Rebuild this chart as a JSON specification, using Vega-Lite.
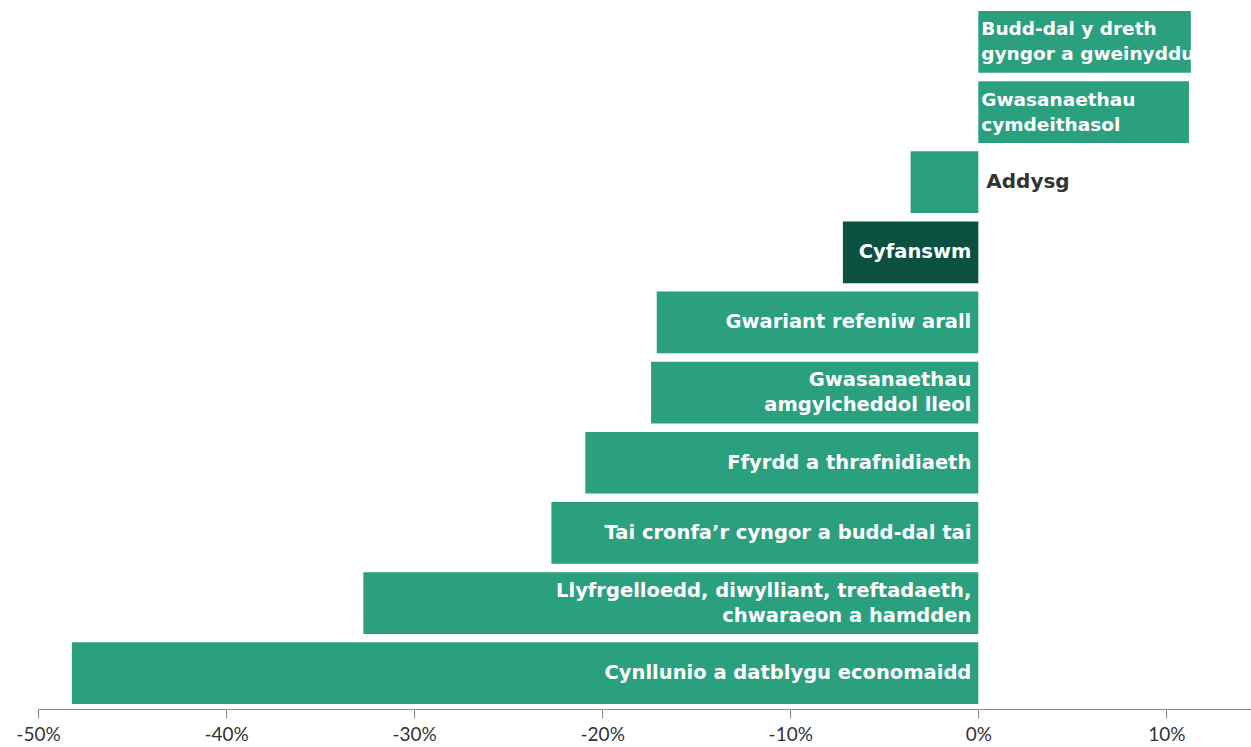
{
  "$schema": "https://vega.github.io/schema/vega-lite/v6.json",
  "width": 1213,
  "height": 709,
  "autosize": "none",
  "padding": {"left": 38, "top": 0, "right": 0, "bottom": 38},
  "background": "white",
  "config": {"view": {"stroke": null}},
  "data": {
    "values": [
      {"name": "Budd-dal y dreth\ngyngor a gweinyddu", "value": 11.3},
      {"name": "Gwasanaethau\ncymdeithasol", "value": 11.2},
      {"name": "Addysg", "value": -3.6},
      {"name": "Cyfanswm", "value": -7.2},
      {"name": "Gwariant refeniw arall", "value": -17.1},
      {"name": "Gwasanaethau\namgylcheddol lleol", "value": -17.4},
      {"name": "Ffyrdd a thrafnidiaeth", "value": -20.9},
      {"name": "Tai cronfa’r cyngor a budd-dal tai", "value": -22.7},
      {"name": "Llyfrgelloedd, diwylliant, treftadaeth,\nchwaraeon a hamdden", "value": -32.7},
      {"name": "Cynllunio a datblygu economaidd", "value": -48.2}
    ]
  },
  "encoding": {
    "y": {
      "field": "name",
      "type": "nominal",
      "sort": null,
      "scale": {"paddingInner": 0.12, "paddingOuter": 0.114, "align": 0.69},
      "axis": null
    }
  },
  "layer": [
    {
      "mark": {"type": "bar"},
      "encoding": {
        "x": {
          "field": "value",
          "type": "quantitative",
          "scale": {"domain": [-50, 14.5], "nice": false, "zero": true},
          "axis": {
            "values": [-50, -40, -30, -20, -10, 0, 10],
            "labelExpr": "datum.value + '%'",
            "title": null,
            "grid": false,
            "domainColor": "#8a8a8a",
            "tickColor": "#8a8a8a",
            "tickSize": 9,
            "labelFontSize": 19,
            "labelFont": "Lato",
            "labelColor": "#333333",
            "labelPadding": 7,
            "labelFlush": false,
            "labelOverlap": false
          }
        },
        "color": {
          "condition": {"test": "datum.name === 'Cyfanswm'", "value": "#0c5140"},
          "value": "#2aa07e"
        }
      }
    },
    {
      "transform": [{"filter": "datum.value < -5 && indexof(datum.name, '\\n') < 0"}],
      "mark": {"type": "text", "align": "right", "baseline": "middle", "dx": -7, "font": "DejaVu Sans", "fontWeight": "bold", "fontSize": 19.5, "color": "white"},
      "encoding": {
        "x": {"datum": 0, "type": "quantitative"},
        "text": {"field": "name"}
      }
    },
    {
      "transform": [{"filter": "datum.value < -5 && indexof(datum.name, '\\n') >= 0"}],
      "mark": {"type": "text", "align": "right", "baseline": "middle", "dx": -7, "dy": -12.5, "font": "DejaVu Sans", "fontWeight": "bold", "fontSize": 19.5, "color": "white", "lineBreak": "\n", "lineHeight": 25},
      "encoding": {
        "x": {"datum": 0, "type": "quantitative"},
        "text": {"field": "name"}
      }
    },
    {
      "transform": [{"filter": "datum.value > 0"}],
      "mark": {"type": "text", "align": "left", "baseline": "middle", "dx": 3, "dy": -12.5, "font": "DejaVu Sans", "fontWeight": "bold", "fontSize": 18.5, "color": "white", "lineBreak": "\n", "lineHeight": 25},
      "encoding": {
        "x": {"datum": 0, "type": "quantitative"},
        "text": {"field": "name"}
      }
    },
    {
      "transform": [{"filter": "datum.value < 0 && datum.value > -5"}],
      "mark": {"type": "text", "align": "left", "baseline": "middle", "dx": 8, "font": "DejaVu Sans", "fontWeight": "bold", "fontSize": 20, "color": "#333333"},
      "encoding": {
        "x": {"datum": 0, "type": "quantitative"},
        "text": {"field": "name"}
      }
    }
  ]
}
